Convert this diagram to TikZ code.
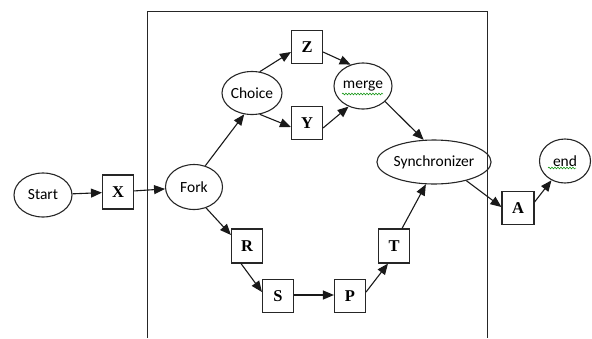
\documentclass[tikz,border=0pt]{standalone}
\usepackage{fontspec}
\setmainfont{Liberation Serif}
\newfontfamily\labelfont{Carlito}
\usetikzlibrary{shapes.geometric,arrows.meta,decorations.pathmorphing}

\tikzset{
  state/.style={ellipse, draw=black!85, line width=1.1pt, inner sep=0pt,
    font=\labelfont\fontsize{15.5}{15.5}\selectfont},
  task/.style={rectangle, draw=black!85, line width=1.1pt, inner sep=0pt,
    minimum width=31, minimum height=33, font=\bfseries\fontsize{16.5}{16.5}\selectfont},
  flow/.style={draw=black!90, line width=1.1pt,
    -{Triangle[length=11pt,width=9pt]}},
  spell/.style={draw=green!55!black, line width=0.5pt,
    decorate, decoration={snake, amplitude=0.9pt, segment length=3pt}}
}

\begin{document}
\begin{tikzpicture}[x=1pt, y=-1pt]
  \useasboundingbox (0,0) rectangle (592,338);

  % enclosing frame, open at the bottom
  \draw[black!85, line width=1pt] (147,338) -- (147,11) -- (487,11) -- (487,338);

  % places
  \node[state, minimum width=58, minimum height=44] (start) at (43,195) {Start};
  \node[state, minimum width=57, minimum height=45] (fork)  at (194,187) {Fork};
  \node[state, minimum width=58, minimum height=43] (choice) at (252,93) {Choice};
  \node[state, minimum width=58, minimum height=46] (merge) at (363,86) {merge};
  \node[state, minimum width=96, minimum height=44] (sync)  at (434,162) {Synchronizer};
  \node[state, minimum width=51, minimum height=44] (end)   at (565,161) {end};

  % tasks
  \node[task, minimum height=34] (X) at (118,192) {X};
  \node[task] (Z) at (307,47) {Z};
  \node[task] (Y) at (307,123) {Y};
  \node[task, minimum height=34] (R) at (247,246) {R};
  \node[task] (S) at (278,296) {S};
  \node[task] (P) at (350,296) {P};
  \node[task, minimum height=34] (T) at (394,246) {T};
  \node[task, minimum width=32] (A) at (518,208) {A};

  % spelling marks under two labels
  \draw[spell] ([xshift=-21,yshift=-8]merge.center) -- ([xshift=20,yshift=-8]merge.center);
  \draw[spell] ([xshift=-17,yshift=-7]end.center) -- ([xshift=11,yshift=-7]end.center);

  % connectors
  \draw[flow] (start) -- (X);
  \draw[flow] (X) -- (fork);
  \draw[flow] (fork.62) -- (choice.250);
  \draw[flow] (choice.70) -- ([yshift=-5]Z.west);
  \draw[flow] (choice.290) -- ([yshift=-4]Y.west);
  \draw[flow] ([yshift=-5]Z.east) -- (merge.120);
  \draw[flow] ([yshift=-5]Y.east) -- (merge.235);
  \draw[flow] (merge.325) -- (sync.115);
  \draw[flow] (fork.300) -- ([yshift=11]R.west);
  \draw[flow] ([xshift=-6]R.south) -- ([yshift=4]S.west);
  \draw[flow] ([yshift=1]S.east) -- ([yshift=1]P.west);
  \draw[flow] ([yshift=4]P.east) -- ([xshift=-6]T.south);
  \draw[flow] ([xshift=8]T.north) -- (sync.250);
  \draw[flow] (sync.330) -- ([yshift=1]A.west);
  \draw[flow] ([yshift=6]A.east) -- (end.235);
\end{tikzpicture}
\end{document}
